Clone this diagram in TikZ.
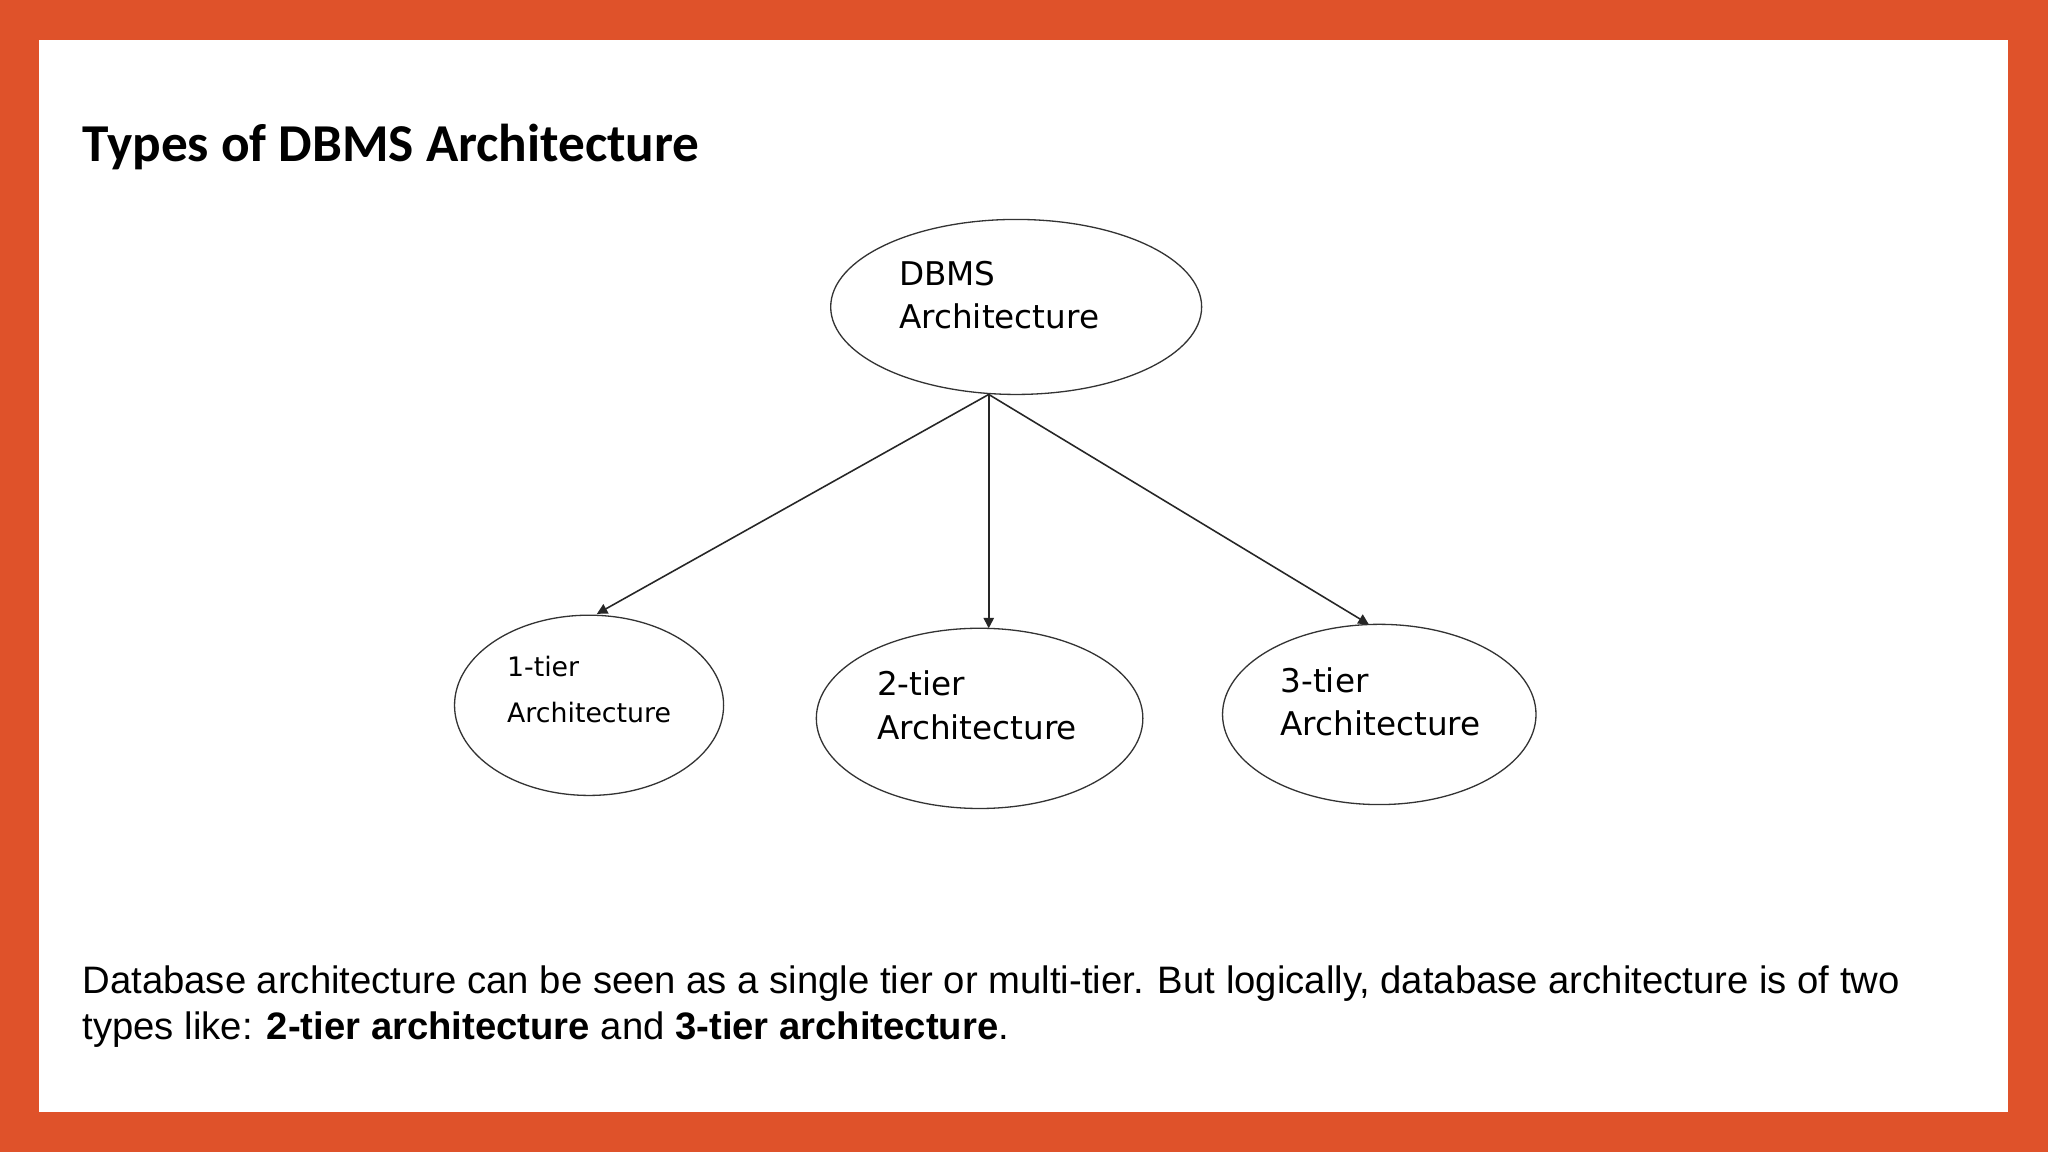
\documentclass[tikz,border=0pt]{standalone}
\usepackage{fontspec}
\setmainfont{Liberation Sans}
\newfontfamily\titlefont{Carlito}
\newfontfamily\ellfont{DejaVu Sans}
\usetikzlibrary{shapes.geometric,arrows.meta}
\definecolor{frame}{HTML}{DF522A}
\tikzset{
  ell/.style={draw=black!80, line width=1pt, ellipse, inner sep=0pt},
  lbl/.style={font=\ellfont\fontsize{25}{33}\selectfont, align=left, inner sep=0pt},
  conn/.style={draw=black!85, line width=1.2pt, -{Triangle[length=8pt,width=8pt]}}
}
\begin{document}
\begin{tikzpicture}[x=1pt,y=-1pt]
\fill[frame] (0,0) rectangle (1568,882);
\fill[white] (30,31) rectangle (1537,851);
\node[anchor=base west, inner sep=0pt, font=\titlefont\bfseries\fontsize{40.8}{46}\selectfont] (title) at (63,124) {Types of DBMS Architecture};
\node[ell, minimum width=284, minimum height=134] (top) at (778,235) {};
\node[ell, minimum width=206, minimum height=138] (c1) at (451,540) {};
\node[ell, minimum width=250, minimum height=138] (c2) at (750,550) {};
\node[ell, minimum width=240, minimum height=138] (c3) at (1056,547) {};
\node[lbl] (t0) at (765,226) {DBMS\\Architecture};
\node[lbl, font=\ellfont\fontsize{20.5}{35}\selectfont] (t1) at (451,528) {1-tier\\Architecture};
\node[lbl] (t2) at (748,540) {2-tier\\Architecture};
\node[lbl] (t3) at (1057,537) {3-tier\\Architecture};
\coordinate (src) at (757,302);
\coordinate (e1) at (457,470);
\coordinate (e2) at (757,481);
\coordinate (e3) at (1048,478);
\draw[conn] (src) -- (e1);
\draw[conn] (src) -- (e2);
\draw[conn] (src) -- (e3);
\node[anchor=base west, align=left, inner sep=0pt, font=\fontsize{29.3}{35}\selectfont] (body) at (63,796)
{Database architecture can be seen as a single tier or multi-tier. But logically, database architecture is of two\\types like: \textbf{2-tier architecture} and \textbf{3-tier architecture}.};
\end{tikzpicture}
\end{document}
